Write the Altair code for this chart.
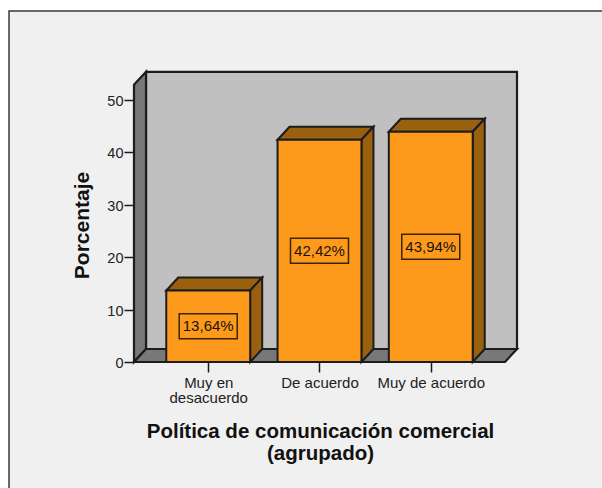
import altair as alt
import pandas as pd

# Survey results
categories = ["Muy en desacuerdo", "De acuerdo", "Muy de acuerdo"]
percentages = [13.64, 42.42, 43.94]
value_labels = ["13,64%", "42,42%", "43,94%"]
y_ticks = [0, 10, 20, 30, 40, 50]
x_ticks = [0, 1, 2]

# Extent of the pseudo-3D box, in scale units
X_LEFT, X_RIGHT = -0.667, 2.667
Y_TOP = 52.9
DEPTH_X, DEPTH_Y = 0.108, 2.48
BAR_HALF = 0.377

FONT = "Liberation Sans"
INK = "#1c1c1c"
FACE = "#fd9a1c"
SHADE = "#99600f"

x_scale = alt.Scale(domain=[X_LEFT, X_RIGHT + DEPTH_X], nice=False, zero=False)
y_scale = alt.Scale(domain=[0, 55.34], nice=False, zero=False)

x_axis = alt.Axis(
    values=x_ticks, domain=False, grid=False, tickSize=10, tickWidth=1.5, tickColor=INK, zindex=1,
    labelFont=FONT, labelFontSize=15, labelColor="#222222", labelPadding=3, labelLineHeight=15.2,
    labelExpr="datum.value == 0 ? ['Muy en', 'desacuerdo'] : datum.value == 1 ? 'De acuerdo' : 'Muy de acuerdo'",
    title=["Política de comunicación comercial", "(agrupado)"],
    titleFont=FONT, titleFontSize=20.5, titleFontWeight="bold", titleColor="#111111",
    titleLineHeight=22.5, titleX=186, titleY=69, titleBaseline="middle",
)
y_axis = alt.Axis(
    values=y_ticks, domain=False, grid=False, tickSize=10, tickWidth=1.5, tickColor=INK, zindex=1,
    labelFont=FONT, labelFontSize=14.5, labelColor="#222222", labelPadding=1, labelOffset=1.5,
    title="Porcentaje", titleFont=FONT, titleFontSize=21, titleFontWeight="bold",
    titleColor="#111111", titleX=-42, titleY=153,
)
X = lambda f="x": alt.X(f"{f}:Q", scale=x_scale)
Y = lambda f="y": alt.Y(f"{f}:Q", scale=y_scale)

# Axes alone; every other layer shares their scales
axes = alt.Chart(pd.DataFrame({"x": [0], "y": [0]})).mark_point(opacity=0).encode(
    x=alt.X("x:Q", scale=x_scale, axis=x_axis),
    y=alt.Y("y:Q", scale=y_scale, axis=y_axis),
)

# Outer frame of the graphics pane
frame = alt.Chart(pd.DataFrame({"a": [0]})).mark_rect(
    fill="#f0f0f0", stroke="#3a3a3a", strokeWidth=1.5
).encode(x=alt.value(-125), x2=alt.value(480), y=alt.value(-61), y2=alt.value(430))

wall = alt.Chart(pd.DataFrame({
    "x": [X_LEFT + DEPTH_X], "x2": [X_RIGHT + DEPTH_X], "y": [DEPTH_Y], "y2": [Y_TOP + DEPTH_Y],
})).mark_rect(fill="#c0c0c0", stroke=INK, strokeWidth=2.2).encode(
    x=X(), x2="x2:Q", y=Y(), y2="y2:Q"
)

side_wall = alt.Chart(pd.DataFrame({
    "x": [X_LEFT, X_LEFT + DEPTH_X], "y": [0, DEPTH_Y], "y2": [Y_TOP, Y_TOP + DEPTH_Y],
})).mark_area(fill="#787878", stroke=INK, strokeWidth=2.2).encode(
    x=X(), y=Y(), y2="y2:Q"
)

floor = alt.Chart(pd.DataFrame({
    "y": [0, DEPTH_Y], "x": [X_LEFT, X_LEFT + DEPTH_X], "x2": [X_RIGHT, X_RIGHT + DEPTH_X],
})).mark_area(orient="horizontal", fill="#787878", stroke=INK, strokeWidth=2.2).encode(
    y=Y(), x=X(), x2="x2:Q"
)

# One row per bar for the front faces and labels
bars = pd.DataFrame({"category": categories, "value": percentages, "label": value_labels})
bars["pos"] = range(len(bars))
bars["left"] = bars["pos"] - BAR_HALF
bars["right"] = bars["pos"] + BAR_HALF
bars["mid"] = bars["value"] / 2
bars["zero"] = 0.0

# Two rows per bar describe each slanted face
top_rows, side_rows = [], []
for row in bars.itertuples():
    top_rows += [
        {"category": row.category, "y": row.value, "x": row.left, "x2": row.right},
        {"category": row.category, "y": row.value + DEPTH_Y, "x": row.left + DEPTH_X, "x2": row.right + DEPTH_X},
    ]
    side_rows += [
        {"category": row.category, "x": row.right, "y": 0.0, "y2": row.value},
        {"category": row.category, "x": row.right + DEPTH_X, "y": DEPTH_Y, "y2": row.value + DEPTH_Y},
    ]

bar_tops = alt.Chart(pd.DataFrame(top_rows)).mark_area(
    orient="horizontal", fill=SHADE, stroke=INK, strokeWidth=2
).encode(y=Y(), x=X(), x2="x2:Q", detail="category:N")

bar_sides = alt.Chart(pd.DataFrame(side_rows)).mark_area(
    fill=SHADE, stroke=INK, strokeWidth=2
).encode(x=X(), y=Y(), y2="y2:Q", detail="category:N")

bar_fronts = alt.Chart(bars).mark_rect(fill=FACE, stroke=INK, strokeWidth=2).encode(
    x=X("left"), x2="right:Q", y=Y("zero"), y2="value:Q"
)

label_boxes = alt.Chart(bars).mark_rect(
    width=58, height=25, fill=FACE, stroke="#3a2508", strokeWidth=1.5
).encode(x=X("pos"), y=Y("mid"))

label_text = alt.Chart(bars).mark_text(
    font=FONT, fontSize=15, color="#1a1208", align="center", baseline="middle"
).encode(x=X("pos"), y=Y("mid"), text="label:N")

chart = alt.layer(
    axes, frame, wall, side_wall, floor, bar_tops, bar_sides, bar_fronts, label_boxes, label_text
).resolve_scale(x="shared", y="shared").properties(
    width=383,
    height=290,
    padding={"left": 134, "top": 72, "right": 85, "bottom": 126},
    autosize=alt.AutoSizeParams(type="none"),
    background="#ffffff",
).configure_view(stroke=None)

chart.save("out.html", embed_options={"renderer": "svg", "actions": False})
